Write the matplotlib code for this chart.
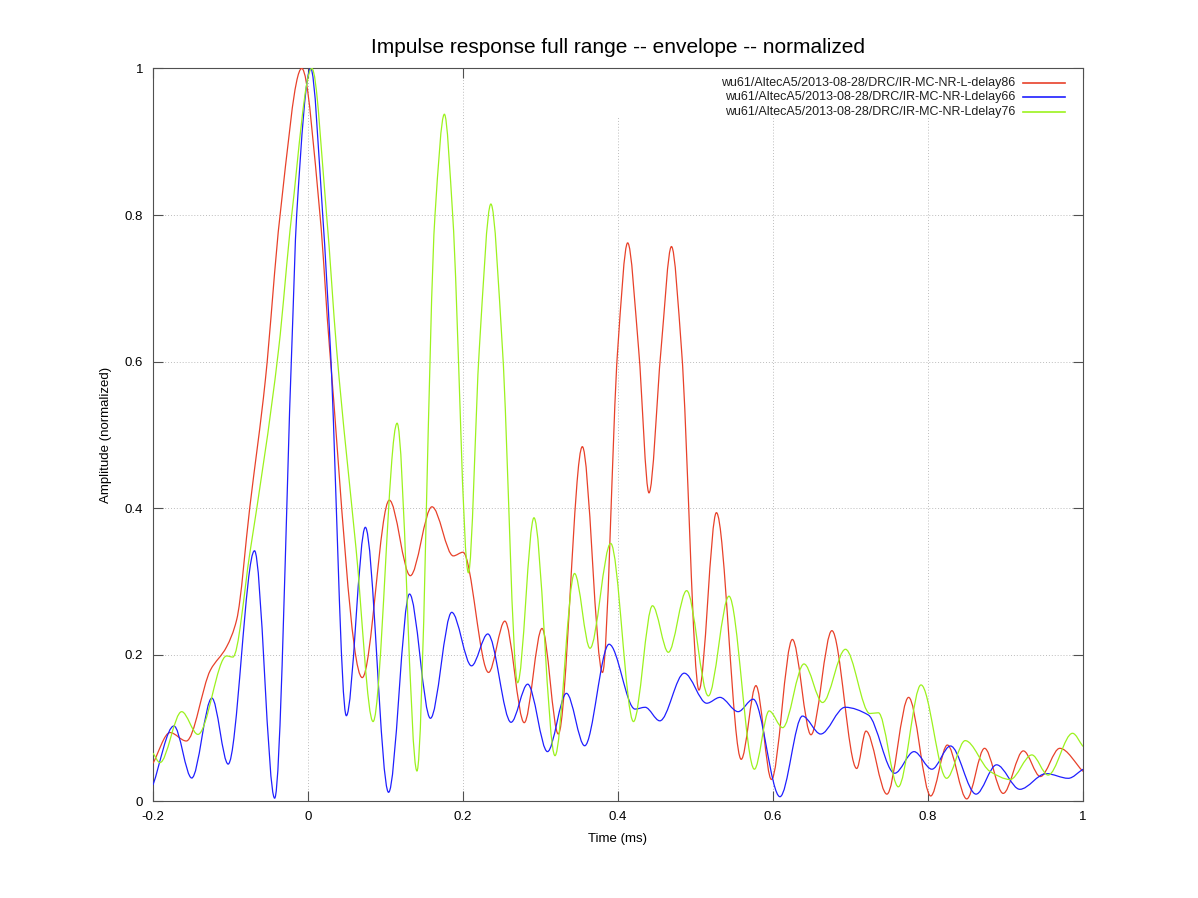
import matplotlib
matplotlib.use("Agg")
import matplotlib.pyplot as plt
import numpy as np
from matplotlib.lines import Line2D
from matplotlib.patches import PathPatch, Rectangle
from matplotlib.path import Path

plt.rcParams["font.family"] = ["Liberation Sans", "DejaVu Sans"]

title = "Impulse response full range -- envelope -- normalized"
series_names = [
    "wu61/AltecA5/2013-08-28/DRC/IR-MC-NR-L-delay86",
    "wu61/AltecA5/2013-08-28/DRC/IR-MC-NR-Ldelay66",
    "wu61/AltecA5/2013-08-28/DRC/IR-MC-NR-Ldelay76",
]
series_colors = ["#e8412a", "#1f1fff", "#9cf21e"]

# envelope values (peaks, troughs and a few flank points)
red_x = [-0.2, -0.178, -0.157, -0.126, -0.105, -0.092, -0.075, -0.055, -0.036, -0.008,
         0.0155, 0.028, 0.070, 0.105, 0.132, 0.160, 0.1875, 0.200, 0.233, 0.254,
         0.279, 0.302, 0.323, 0.354, 0.380, 0.3996, 0.4125, 0.4267, 0.440, 0.4555,
         0.469, 0.482, 0.5045, 0.527, 0.559, 0.578, 0.598, 0.625, 0.649, 0.676,
         0.708, 0.720, 0.747, 0.775, 0.8035, 0.825, 0.850, 0.873, 0.897, 0.923,
         0.945, 0.970, 1.0]
red_y = [0.052, 0.094, 0.0825, 0.179, 0.211, 0.248, 0.402, 0.575, 0.8, 1.0,
         0.8, 0.616, 0.169, 0.411, 0.308, 0.402, 0.335, 0.340, 0.176, 0.246,
         0.1075, 0.236, 0.092, 0.484, 0.176, 0.616, 0.762, 0.616, 0.421, 0.616,
         0.757, 0.616, 0.152, 0.394, 0.0575, 0.158, 0.030, 0.221, 0.091, 0.233,
         0.045, 0.096, 0.010, 0.142, 0.0075, 0.077, 0.0035, 0.0725, 0.011, 0.069,
         0.034, 0.0725, 0.041]

blue_x = [-0.2, -0.173, -0.150, -0.124, -0.103, -0.069, -0.043, -0.021, -0.0146, 0.0035,
          0.019, 0.029, 0.0495, 0.074, 0.104, 0.131, 0.158, 0.1855, 0.211, 0.232,
          0.262, 0.2835, 0.309, 0.3335, 0.357, 0.3885, 0.422, 0.435, 0.454, 0.4855,
          0.5145, 0.5316, 0.555, 0.5745, 0.609, 0.638, 0.6615, 0.693, 0.723, 0.757,
          0.782, 0.805, 0.829, 0.862, 0.8885, 0.9185, 0.9525, 0.981, 1.0]
blue_y = [0.0225, 0.103, 0.032, 0.141, 0.051, 0.342, 0.0045, 0.616, 0.8, 1.0,
          0.8, 0.616, 0.117, 0.374, 0.0125, 0.283, 0.1135, 0.258, 0.185, 0.2285,
          0.108, 0.160, 0.068, 0.1475, 0.076, 0.2145, 0.126, 0.1285, 0.110, 0.175,
          0.134, 0.142, 0.1225, 0.1395, 0.0065, 0.1165, 0.092, 0.1285, 0.118, 0.0385,
          0.068, 0.044, 0.0757, 0.010, 0.050, 0.0166, 0.038, 0.0316, 0.044]

green_x = [-0.2, -0.191, -0.163, -0.142, -0.105, -0.097, -0.075, -0.038, -0.021, 0.005,
           0.024, 0.037, 0.062, 0.084, 0.115, 0.1406, 0.1639, 0.176, 0.1867, 0.207,
           0.221, 0.236, 0.251, 0.2705, 0.2916, 0.3187, 0.3439, 0.3639, 0.3906, 0.420,
           0.4445, 0.465, 0.4886, 0.5166, 0.5432, 0.576, 0.595, 0.6125, 0.640, 0.664,
           0.6935, 0.725, 0.736, 0.7617, 0.791, 0.824, 0.848, 0.880, 0.906, 0.934,
           0.955, 0.9865, 1.0]
green_y = [0.066, 0.053, 0.1225, 0.0915, 0.1985, 0.197, 0.339, 0.616, 0.8, 1.0,
           0.8, 0.616, 0.345, 0.109, 0.516, 0.0416, 0.8, 0.9375, 0.8, 0.312,
           0.616, 0.815, 0.616, 0.162, 0.387, 0.0625, 0.311, 0.209, 0.352, 0.109,
           0.267, 0.2035, 0.2876, 0.144, 0.280, 0.044, 0.1235, 0.1007, 0.1876, 0.135,
           0.2076, 0.120, 0.121, 0.020, 0.159, 0.0316, 0.083, 0.041, 0.030, 0.0635,
           0.036, 0.093, 0.075]

x_ticks = [-0.2, 0, 0.2, 0.4, 0.6, 0.8, 1]
x_tick_labels = ["-0.2", "0", "0.2", "0.4", "0.6", "0.8", "1"]
y_ticks = [0, 0.2, 0.4, 0.6, 0.8, 1]
y_tick_labels = ["0", "0.2", "0.4", "0.6", "0.8", "1"]


def smooth_path(x, y):
    # monotone cubic hermite segments, drawn as bezier curves by matplotlib
    x = np.asarray(x, float)
    y = np.asarray(y, float)
    h = np.diff(x)
    d = np.diff(y) / h
    m = np.zeros_like(y)
    m[0], m[-1] = d[0], d[-1]
    for k in range(1, len(x) - 1):
        if d[k - 1] * d[k] > 0:
            w1 = 2 * h[k] + h[k - 1]
            w2 = h[k] + 2 * h[k - 1]
            m[k] = (w1 + w2) / (w1 / d[k - 1] + w2 / d[k])
    verts = [(x[0], y[0])]
    codes = [Path.MOVETO]
    for k in range(len(h)):
        verts += [(x[k] + h[k] / 3, y[k] + m[k] * h[k] / 3),
                  (x[k + 1] - h[k] / 3, y[k + 1] - m[k + 1] * h[k] / 3),
                  (x[k + 1], y[k + 1])]
        codes += [Path.CURVE4] * 3
    return Path(verts, codes)


fig = plt.figure(figsize=(11.98, 8.98), dpi=100)
ax = fig.add_axes([0.1277, 0.1075, 0.7763, 0.8163])
ax.set_xlim(-0.2, 1)
ax.set_ylim(0, 1)

ax.grid(True, color="#bdbdbd", linestyle=(0, (1, 2)), linewidth=0.7)
ax.set_axisbelow(True)
# gnuplot keeps the grid out of the key area
ax.add_patch(Rectangle((0.35, 0.9325), 0.65, 0.0675, facecolor="white", edgecolor="none", zorder=1.5))

for xs, ys, color in zip([red_x, blue_x, green_x], [red_y, blue_y, green_y], series_colors):
    ax.add_patch(PathPatch(smooth_path(xs, ys), facecolor="none", edgecolor=color, linewidth=0.9, zorder=3))

# key: right-aligned names with the line sample on their right
for i, (name, color) in enumerate(zip(series_names, series_colors)):
    yk = 0.9805 - i * 0.0198
    ax.text(0.927, yk, name, transform=ax.transAxes, ha="right", va="center", fontsize=9, color="#202020")
    ax.add_line(Line2D([0.9355, 0.9806], [yk, yk], transform=ax.transAxes, color=color, linewidth=1.2))

ax.set_xticks(x_ticks)
ax.set_xticklabels(x_tick_labels)
ax.set_yticks(y_ticks)
ax.set_yticklabels(y_tick_labels)
ax.tick_params(direction="in", length=7, width=0.8, color="#505050", labelsize=9.5, pad=7,
               top=True, right=True)
for spine in ax.spines.values():
    spine.set_color("#505050")
    spine.set_linewidth(0.8)

ax.set_title(title, fontsize=15, pad=11)
ax.set_xlabel("Time (ms)", fontsize=9.5, labelpad=7)
ax.set_ylabel("Amplitude (normalized)", fontsize=9.5, labelpad=9)

fig.savefig("out.png", dpi=100)
